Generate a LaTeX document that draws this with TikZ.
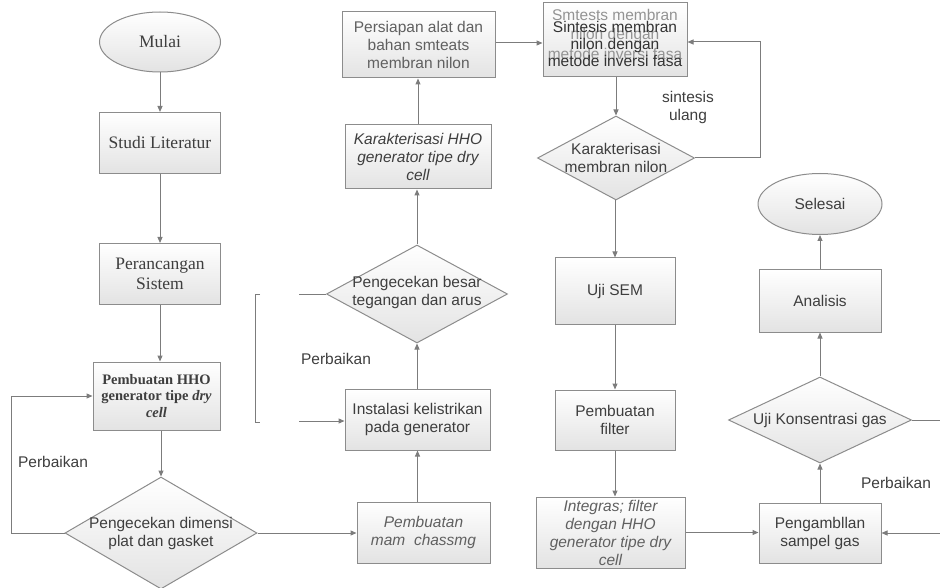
\documentclass[tikz,border=0pt]{standalone}
\usepackage{fontspec}
\setmainfont{Liberation Serif}
\setsansfont{Liberation Sans}
\usetikzlibrary{shapes.geometric,arrows.meta}
\definecolor{edgec}{HTML}{8C8C8C}
\definecolor{linec}{HTML}{7C7C7C}
\definecolor{txtc}{HTML}{3E3E3E}
\definecolor{lightt}{HTML}{606060}
\newcommand\fsans{\sffamily\fontsize{15.5}{18}\selectfont}
\newcommand\fserif{\rmfamily\fontsize{17.5}{20}\selectfont}
\newcommand\fbold{\rmfamily\bfseries\fontsize{14.5}{16.5}\selectfont}
\tikzset{
  box/.style={rectangle, draw=edgec, line width=1pt, top color=white, bottom color=gray!22,
              inner sep=0pt, align=center, text=txtc, font=\fsans},
  dia/.style={diamond, draw=edgec, line width=1pt, top color=white, bottom color=gray!22, inner sep=0pt},
  ell/.style={ellipse, draw=edgec, line width=1pt, top color=white, bottom color=gray!22,
              inner sep=0pt, text=txtc},
  txt/.style={align=center, text=txtc, font=\fsans, inner sep=0pt},
  arr/.style={draw=linec, line width=1pt, -{Triangle[length=6pt,width=5pt]}},
  conn/.style={draw=linec, line width=1pt}
}
\begin{document}
\begin{tikzpicture}[x=1pt,y=-1pt]
\useasboundingbox (0,0) rectangle (940,588);
% left column
\node[ell, minimum width=121pt, minimum height=60pt, font=\fserif] (mulai) at (160,42) {Mulai};
\node[box, minimum width=121pt, minimum height=61pt, font=\fserif] (studi) at (160,143) {Studi Literatur};
\node[box, minimum width=121pt, minimum height=61pt, font=\fserif] (peran) at (160,274) {Perancangan\\Sistem};
\node[box, minimum width=127pt, minimum height=68pt, font=\fbold] (pemb) at (156.5,396) {Pembuatan HHO\\generator tipe \textit{dry}\\\textit{cell}};
\node[dia, minimum width=192pt, minimum height=112pt] (dim) at (161,533) {};
\node[txt] (dimT) at (dim.center) {Pengecekan dimensi\\plat dan gasket};
% second column
\node[box, minimum width=133pt, minimum height=61pt, text=lightt, font=\fsans\itshape] (chass) at (423.5,532.5) {Pembuatan\\mam\ \ chassmg};
\node[box, minimum width=145pt, minimum height=61pt] (inst) at (417.5,419.5) {Instalasi kelistrikan\\pada generator};
\node[dia, minimum width=181pt, minimum height=98pt] (teg) at (417,294) {};
\node[txt] (tegT) at ([yshift=2pt]teg.center) {Pengecekan besar\\tegangan dan arus};
\node[box, minimum width=146pt, minimum height=64pt, font=\fsans\itshape] (kar) at (418,157) {Karakterisasi HHO\\generator tipe dry\\cell};
\node[box, minimum width=153pt, minimum height=66pt, text=lightt] (pers) at (418.5,45) {Persiapan alat dan\\bahan\ smteats\\membran\ nilon};
% third column
\node[box, minimum width=144pt, minimum height=74pt] (sint) at (615,40) {};
\node[txt, text=gray!85, font=\sffamily\fontsize{15.5}{19.5}\selectfont] (sintA) at (615,34) {Smtests membran\\nilon dengan\\metode inversi fasa};
\node[txt, text=black!80, font=\sffamily\fontsize{15.5}{17}\selectfont] (sintB) at (615,44) {Sintesis membran\\nilon dengan\\metode inversi fasa};
\node[dia, minimum width=157pt, minimum height=84pt] (karm) at (616,158) {};
\node[txt] (karmT) at (karm.center) {Karakterisasi\\membran nilon};
\node[box, minimum width=120pt, minimum height=66pt] (sem) at (615,291) {Uji SEM};
\node[box, minimum width=120pt, minimum height=60pt] (filt) at (615,420) {Pembuatan\\filter};
\node[box, minimum width=149pt, minimum height=71pt, text=lightt, font=\fsans\itshape] (integ) at (610.5,532.5) {Integras; filter\\dengan HHO\\generator tipe dry\\cell};
% fourth column
\node[box, minimum width=122pt, minimum height=60pt] (ambil) at (820,533) {Pengambllan\\sampel gas};
\node[dia, minimum width=183pt, minimum height=86pt] (kons) at (820,420) {};
\node[txt] (konsT) at (kons.center) {Uji Konsentrasi gas};
\node[box, minimum width=122pt, minimum height=62pt] (anal) at (820,301) {Analisis};
\node[ell, minimum width=124pt, minimum height=61pt, font=\fsans] (sele) at (820,204) {Selesai};
% labels
\node[txt] (lbA) at (53,462) {Perbaikan};
\node[txt] (lbB) at (336,359) {Perbaikan};
\node[txt] (lbC) at (688,107) {sintesis\\ulang};
\node[txt] (lbD) at (896,483) {Perbaikan};
% free ends
\coordinate (rin) at (940,533);
\coordinate (rout) at (940,420);
\coordinate (brT) at (299,294);
\coordinate (brB) at (299,421);
% connectors
\draw[arr] (mulai) -- (studi);
\draw[arr] (studi) -- (peran);
\draw[arr] (peran.south) -- (peran.south |- pemb.north);
\draw[arr] (dim.north |- pemb.south) -- (dim.north);
\draw[arr] (dim.west) -- ++(-53,0) |- (pemb.west);
\draw[arr] (dim.east) -- (dim.east -| chass.west);
\draw[arr] (chass.north -| inst.south) -- (inst.south);
\draw[arr] (inst.north -| teg.south) -- (teg.south);
\draw[arr] (teg.north) -- (teg.north |- kar.south);
\draw[arr] (kar.north) -- (kar.north |- pers.south);
\draw[arr] (pers.east |- 0,43) -- (sint.west |- 0,43);
\draw[arr] (sint.south -| karm.north) -- (karm.north);
\draw[arr] (karm.east) -- (760,158) |- (sint.east |- 0,42);
\draw[arr] (karm.south -| sem.north) -- (sem.north);
\draw[arr] (sem) -- (filt);
\draw[arr] (filt.south) -- (filt.south |- integ.north);
\draw[arr] (integ.east) -- (integ.east -| ambil.west);
\draw[arr] (rin) -- (ambil.east);
\draw[arr] (ambil) -- (kons);
\draw[arr] (kons) -- (anal);
\draw[arr] (anal) -- (sele);
\draw[conn] (kons.east) -- (rout);
\draw[conn] (teg.west) -- (brT);
\draw[conn] (260,294) -- (255,294) -- (255,422) -- (260,422);
\draw[arr] (brB) -- (brB -| inst.west);
\end{tikzpicture}
\end{document}
